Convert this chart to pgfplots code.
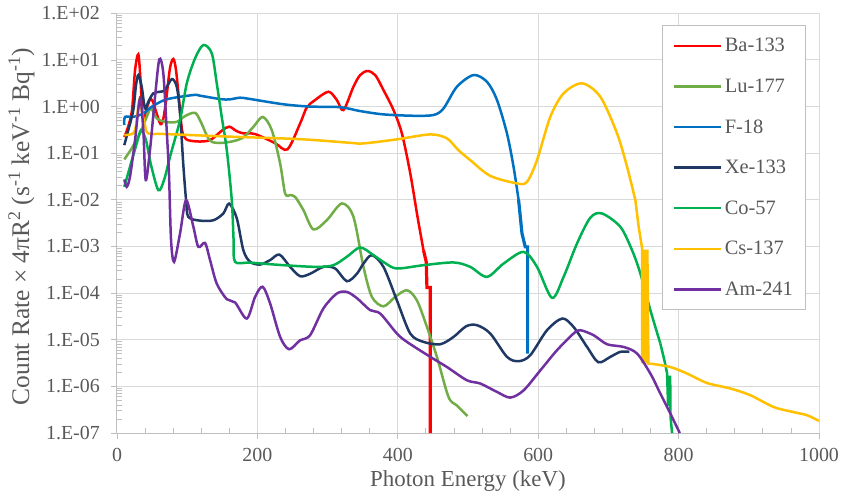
\documentclass[border=0pt]{standalone}
\usepackage{pgfplots}
\pgfplotsset{compat=1.18}
\usepackage{fontspec}
\setmainfont{Liberation Serif}
\definecolor{txt}{HTML}{595959}
\definecolor{gridc}{HTML}{D9D9D9}
\definecolor{axc}{HTML}{BFBFBF}
\definecolor{cBa}{HTML}{FF0000}
\definecolor{cLu}{HTML}{70AD47}
\definecolor{cF}{HTML}{0070C0}
\definecolor{cXe}{HTML}{203864}
\definecolor{cCo}{HTML}{00B050}
\definecolor{cCs}{HTML}{FFC000}
\definecolor{cAm}{HTML}{7030A0}
\begin{document}
\begin{tikzpicture}
\useasboundingbox (-117bp,-66bp) rectangle (727bp,433bp);
\begin{axis}[
  at={(0,0)}, anchor=south west,
  scale only axis, width=702bp, height=419.7bp,
  xmin=0, xmax=1000, ymin=1e-7, ymax=1e2, ymode=log,
  xtick={0,200,400,600,800,1000}, xticklabels={0,200,400,600,800,1000},
  minor x tick num=4,
  ytick={1e-7,1e-6,1e-5,1e-4,1e-3,1e-2,1e-1,1,10,100},
  yticklabels={1.E-07,1.E-06,1.E-05,1.E-04,1.E-03,1.E-02,1.E-01,1.E+00,1.E+01,1.E+02},
  minor ytick={2e-7,3e-7,4e-7,5e-7,6e-7,7e-7,8e-7,9e-7,
    2e-6,3e-6,4e-6,5e-6,6e-6,7e-6,8e-6,9e-6,
    2e-5,3e-5,4e-5,5e-5,6e-5,7e-5,8e-5,9e-5,
    2e-4,3e-4,4e-4,5e-4,6e-4,7e-4,8e-4,9e-4,
    2e-3,3e-3,4e-3,5e-3,6e-3,7e-3,8e-3,9e-3,
    2e-2,3e-2,4e-2,5e-2,6e-2,7e-2,8e-2,9e-2,
    0.2,0.3,0.4,0.5,0.6,0.7,0.8,0.9,
    2,3,4,5,6,7,8,9,20,30,40,50,60,70,80,90},
  grid=major, major grid style={draw=gridc, line width=1bp},
  axis lines=left, axis line style={-, draw=axc, line width=1bp},
  tick align=outside, major tick length=6bp, minor tick length=5bp,
  tick style={draw=axc, line width=0.8bp},
  minor x tick style={yshift=5bp}, minor y tick style={xshift=5bp},
  xticklabel style={anchor=north, inner sep=0pt, yshift=-9bp},
  yticklabel style={anchor=east, inner sep=0pt, xshift=-11bp},
  every tick label/.append style={text=txt, font=\fontsize{20}{24}\selectfont},
  xlabel={Photon Energy (keV)},
  ylabel={Count Rate × 4πR\textsuperscript{2} (s\textsuperscript{-1} keV\textsuperscript{-1} Bq\textsuperscript{-1})},
  every axis x label/.style={at={(axis description cs:0.5,0)}, yshift=-48bp, anchor=center, text=txt, font=\fontsize{23}{27}\selectfont},
  every axis y label/.style={at={(axis description cs:-0.136,0.492)}, rotate=90, anchor=center, text=txt, font=\fontsize{25.5}{30}\selectfont},
  legend style={at={(0.7764,0.9721)}, anchor=north west, draw=axc, line width=1bp, fill=white,
    inner xsep=10bp, inner ysep=0pt, font=\fontsize{20.5}{24}\selectfont, text=txt,
    cells={anchor=west}, nodes={minimum height=40.6bp, inner ysep=0pt, inner xsep=3bp},
    row sep=0pt, column sep=0pt},
  legend image code/.code={\draw[#1, line width=2.3bp] (0bp,0bp) -- (47bp,0bp);},
]
% Ba-133
\addplot[cBa, line width=2.5bp, smooth] coordinates {(10.4,0.222) (15.7,0.363) (21.4,0.84) (25.7,6.0) (30.4,13.2) (33.5,3.7) (37,0.55) (42,0.9) (47,1.4) (51,1.3) (56,0.75) (62,0.42) (66,0.55) (70,1.39) (75.5,6.7) (80.3,10.5) (84.1,6.0) (88.4,1.39) (92.7,0.31) (98.4,0.20) (111,0.18) (125,0.18) (135,0.20) (150,0.31) (160,0.37) (170,0.30) (180,0.266) (196.7,0.257) (225,0.165) (242.8,0.121) (260.9,0.436) (270.4,0.96) (282.2,1.38) (301.2,2.08) (313.2,1.38) (322.6,0.84) (336.8,2.66) (346.4,4.74) (356.8,5.78) (367.8,4.74) (379.6,2.26) (393.9,0.84) (405.8,0.266) (417.7,0.0374) (428.1,0.00432) (436.6,8.3e-4)};
\addlegendentry{Ba-133}
\addplot[cBa, line width=3.2bp, forget plot] coordinates {(436.6,8.3e-4) (440.5,4.68e-4) (441.5,1.32e-4) (446.2,1.32e-4) (446.2,1e-7)};
% Lu-177
\addplot[cLu, line width=2.5bp, smooth] coordinates {(10.4,0.0736) (21,0.127) (32.8,0.266) (42.3,0.60) (48.5,0.91) (56.6,0.56) (68.4,0.47) (85.1,0.47) (96.9,0.625) (111.2,0.736) (119.7,0.46) (132.6,0.186) (151.5,0.167) (177.8,0.208) (194.3,0.368) (207.7,0.60) (220.5,0.313) (232.4,0.060) (239.5,0.0137) (246.6,0.0126) (253.7,0.0116) (265.6,0.0060) (279.8,0.00232) (298.9,0.00366) (320.3,0.00837) (336.8,0.00432) (351.1,3.65e-4) (363.1,8.3e-5) (379.6,5.2e-5) (396.3,8.3e-5) (413.0,1.15e-4) (427.2,7.0e-5) (441.5,1.88e-5) (455.7,4.3e-6) (472.3,5.9e-7) (484.2,3.9e-7) (499.4,2.3e-7)};
\addlegendentry{Lu-177}
% F-18
\addplot[cF, line width=2.5bp, smooth] coordinates {(10.4,0.40) (11.4,0.60) (23.2,0.60) (37.5,0.71) (49.5,0.99) (70.8,1.43) (108.8,1.77) (118.3,1.71) (146.8,1.45) (160,1.42) (175.3,1.55) (190,1.45) (237,1.12) (275,1.0) (318,0.97) (346.4,0.8) (379.6,0.68) (422.4,0.635) (450.9,0.66) (465.1,0.91) (484.2,2.66) (507.9,4.74) (527,3.40) (541.3,1.38) (555.5,0.266) (564.9,0.051) (572.1,0.00986)};
\addlegendentry{F-18}
\addplot[cF, line width=3.2bp, forget plot] coordinates {(572.1,0.00986) (576.9,0.0019) (581.6,9.8e-4) (584.9,9.8e-4) (584.9,5.06e-6)};
% Xe-133
\addplot[cXe, line width=2.5bp, smooth] coordinates {(10.4,0.149) (16.1,0.313) (23.2,0.84) (27.1,2.9) (30.4,4.74) (35.2,2.66) (39.9,0.91) (44.6,1.27) (51.7,1.92) (61.3,2.08) (68.4,2.26) (78.0,3.89) (85.1,2.66) (89.8,0.71) (94.5,0.0556) (98.4,0.00986) (101.6,0.00432) (118.3,0.00358) (137.3,0.00365) (151.5,0.0051) (159.7,0.0083) (170.6,0.00405) (180.0,8.3e-4) (189.6,4.68e-4) (203.8,4.1e-4) (218.1,5.1e-4) (231.4,6.7e-4) (246.6,3.65e-4) (260.9,2.3e-4) (275.1,2.6e-4) (294.1,3.65e-4) (310.8,3.37e-4) (327.4,1.8e-4) (341.7,2.6e-4) (351.1,4.3e-4) (363.1,6.5e-4) (379.6,3.65e-4) (398.7,7.0e-5) (417.7,1.36e-5) (436.6,9.0e-6) (460.4,8.0e-6) (479.4,1.15e-5) (497.5,1.95e-5) (512.8,2.05e-5) (531.7,1.36e-5) (555.5,4.3e-6) (572.1,3.46e-6) (588.7,4.65e-6) (612.5,1.6e-5) (634.3,2.85e-5) (650.4,1.88e-5) (669.6,7.0e-6) (685.7,3.29e-6) (702.8,4.3e-6) (717.0,5.5e-6) (729.9,5.5e-6)};
\addlegendentry{Xe-133}
% Co-57
\addplot[cCo, line width=2.5bp, smooth] coordinates {(10.4,0.019) (18.5,0.051) (28.1,0.162) (34.2,0.313) (41.3,0.19) (48.5,0.0556) (58.9,0.0161) (67,0.0265) (75.5,0.084) (89.8,0.513) (99.4,3.15) (111.2,10.8) (123.0,20.9) (135.0,13.9) (142.1,3.15) (149.2,0.60) (156.4,0.117) (163.5,0.00986) (166.1,0.00136) (168.2,4.68e-4) (189.6,4.5e-4) (237.1,3.97e-4) (284.7,3.65e-4) (308.3,3.97e-4) (327.4,6.0e-4) (346.4,9.5e-4) (365.4,6.5e-4) (382,4.4e-4) (398.7,3.37e-4) (436.6,3.97e-4) (479.4,4.54e-4) (503.2,3.65e-4) (527.0,2.23e-4) (550.7,4.3e-4) (579.2,7.66e-4) (598.3,3.65e-4) (619.7,7.9e-5) (636.2,2.23e-4) (655.3,0.00116) (674.3,0.00415) (690.9,0.0051) (717.0,0.00264) (733.7,8.3e-4) (745.5,2.64e-4) (759.8,4.3e-5) (774.0,8.3e-6)};
\addlegendentry{Co-57}
\addplot[cCo, line width=2.5bp, forget plot] coordinates {(774.0,8.3e-6) (780,3.5e-6) (783.6,1.9e-6) (785,4e-7) (786.5,4e-7) (787,1.6e-6) (788,1.6e-6) (788.5,2.2e-7) (790.7,1e-7)};
% Cs-137
\addplot[cCs, line width=2.5bp, smooth] coordinates {(10.4,0.244) (23.2,0.266) (27.1,0.40) (31.8,1.38) (35.6,0.76) (39.9,0.40) (44.6,0.266) (70.8,0.257) (165.8,0.225) (260.9,0.20) (332.1,0.167) (351.1,0.162) (398.7,0.198) (446.2,0.253) (470.0,0.208) (486.1,0.117) (503.2,0.071) (531.7,0.0327) (569.8,0.0225) (584.0,0.0243) (598.3,0.071) (617.2,0.60) (636.2,1.92) (662.4,3.15) (688.5,1.62) (712.3,0.266) (726.6,0.051) (738.4,0.00986)};
\addlegendentry{Cs-137}
\addplot[cCs, line width=2.5bp, forget plot] coordinates {(738.4,0.00986) (743.1,0.00264) (748,9.2e-4) (748,3.1e-6) (749.5,8.5e-4) (751,3.1e-6) (752.5,8.5e-4) (754,3.1e-6) (755.5,8.5e-4) (757,3.08e-6) (759.8,3.08e-6)};
\addplot[cCs, line width=2.5bp, smooth, forget plot] coordinates {(759.8,3.08e-6) (788.3,2.6e-6) (812.1,1.88e-6) (840.6,1.18e-6) (873.8,9.0e-7) (902.3,6.45e-7) (935.6,3.6e-7) (964.1,2.8e-7) (983.2,2.4e-7) (1000,1.81e-7)};
% Am-241
\addplot[cAm, line width=2.5bp, smooth] coordinates {(10.4,0.0274) (13.8,0.019) (18.5,0.0312) (25.7,0.191) (32.8,1.50) (37.5,0.313) (40.9,0.0265) (47.0,0.117) (54.2,1.62) (60.3,10.3) (66.0,5.15) (70.8,0.313) (74.1,0.034) (77.0,0.00136) (81.3,4.68e-4) (89.8,0.0019) (98.4,0.00986) (108.8,0.00264) (115.9,9.8e-4) (125.4,0.00119) (132.6,5.1e-4) (142.1,1.6e-4) (156.4,7.4e-5) (168.2,6.3e-5) (184.9,2.85e-5) (196.7,8.3e-5) (207.4,1.37e-4) (218.1,6.0e-5) (232.4,1.15e-5) (245.2,6.25e-6) (260.9,9.75e-6) (275.1,1.25e-5) (294.1,4.7e-5) (313.2,9.8e-5) (327.4,1.06e-4) (341.7,7.8e-5) (360.7,4.3e-5) (374.9,3.65e-5) (398.7,1.36e-5) (413.0,9.0e-6) (446.2,4.3e-6) (470.0,2.6e-6) (498.5,1.35e-6) (517.5,1.15e-6) (541.3,7.6e-7) (560.2,5.75e-7) (579.2,8.2e-7) (603.0,2.2e-6) (626.8,5.96e-6) (650.4,1.36e-5) (660.0,1.6e-5) (678.9,1.25e-5) (698.1,8.0e-6) (721.7,7.0e-6) (740.8,5.06e-6) (759.8,1.88e-6) (774.0,7.0e-7) (788.3,2.6e-7) (801.6,1.0e-7)};
\addlegendentry{Am-241}
\end{axis}
\end{tikzpicture}
\end{document}
